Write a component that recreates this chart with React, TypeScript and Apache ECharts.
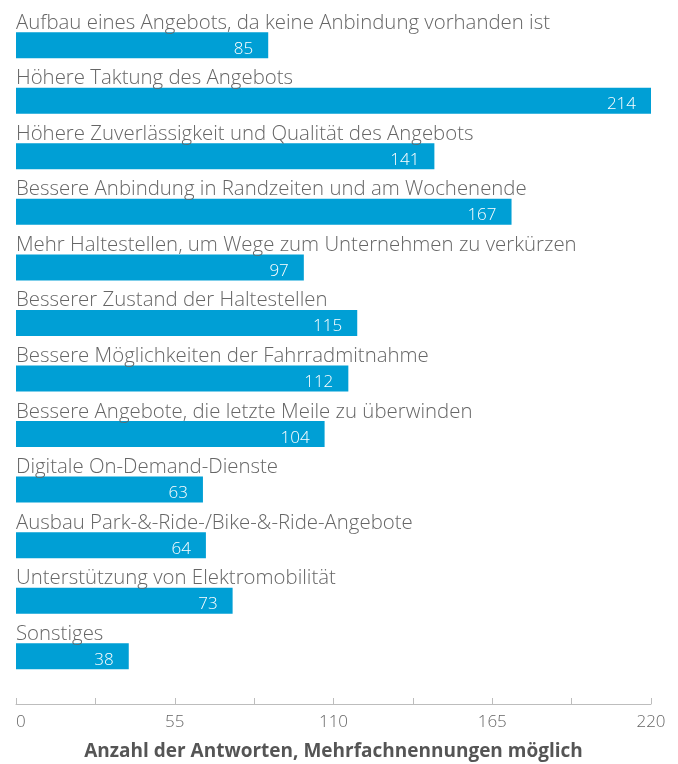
import React, { useEffect, useRef } from "react";
import * as echarts from "echarts";

const categories: string[] = [
  "Aufbau eines Angebots, da keine Anbindung vorhanden ist",
  "Höhere Taktung des Angebots",
  "Höhere Zuverlässigkeit und Qualität des Angebots",
  "Bessere Anbindung in Randzeiten und am Wochenende",
  "Mehr Haltestellen, um Wege zum Unternehmen zu verkürzen",
  "Besserer Zustand der Haltestellen",
  "Bessere Möglichkeiten der Fahrradmitnahme",
  "Bessere Angebote, die letzte Meile zu überwinden",
  "Digitale On-Demand-Dienste",
  "Ausbau Park-&-Ride-/Bike-&-Ride-Angebote",
  "Unterstützung von Elektromobilität",
  "Sonstiges",
];

const values: number[] = [85, 214, 141, 167, 97, 115, 112, 104, 63, 64, 73, 38];

const axisMax = 220;
const axisStep = 27.5;
const axisLabelStep = 55;
const axisTitle = "Anzahl der Antworten, Mehrfachnennungen möglich";

const FONT = "'Open Sans', sans-serif";

export default function App() {
  const ref = useRef<HTMLDivElement>(null);

  useEffect(() => {
    if (!ref.current) return;
    const chart = echarts.init(ref.current, null, { renderer: "svg" });
    chart.setOption({
      animation: false,
      grid: { left: 16, width: 635, top: 17.4, height: 674.7, containLabel: false },
      yAxis: {
        type: "category",
        data: categories,
        inverse: true,
        show: false,
      },
      xAxis: [
        {
          type: "value",
          min: 0,
          max: 214,
          show: false,
        },
        {
          type: "value",
          min: 0,
          max: axisMax,
          interval: axisStep,
          position: "bottom",
          offset: 20,
          axisLine: { show: true, lineStyle: { color: "#bdbdbd", width: 1 } },
          axisTick: { show: true, inside: true, length: 6, lineStyle: { color: "#bdbdbd" } },
          splitLine: { show: false },
          axisLabel: {
            margin: 8,
            color: "#666",
            fontFamily: FONT,
            fontWeight: 300,
            fontSize: 17,
            alignMinLabel: "left",
            formatter: (v: number) =>
              Math.abs(v / axisLabelStep - Math.round(v / axisLabelStep)) < 1e-6 ? String(v) : "",
          },
          name: axisTitle,
          nameLocation: "middle",
          nameGap: 36,
          nameTextStyle: {
            color: "#555",
            fontFamily: FONT,
            fontWeight: "bold",
            fontSize: 19,
          },
        },
      ],
      series: [
        {
          type: "bar",
          xAxisIndex: 0,
          data: values,
          barWidth: 26,
          itemStyle: { color: "#009fd5" },
          label: {
            show: true,
            position: "insideRight",
            distance: 15,
            offset: [0, 2],
            color: "#fff",
            fontFamily: FONT,
            fontWeight: 300,
            fontSize: 17,
            lineHeight: 16,
          },
          z: 2,
        },
        {
          type: "bar",
          xAxisIndex: 0,
          data: values,
          barWidth: 26,
          barGap: "-100%",
          itemStyle: { color: "rgba(0,0,0,0)" },
          label: {
            show: true,
            position: [0, -11.5],
            verticalAlign: "middle",
            align: "left",
            color: "#666",
            fontFamily: FONT,
            fontWeight: 300,
            fontSize: 20.4,
            lineHeight: 19,
            formatter: (p: any) => p.name,
          },
          silent: true,
          z: 3,
        },
      ],
    });
    return () => chart.dispose();
  }, []);

  return (
    <div
      ref={ref}
      style={{ position: "fixed", left: 0, top: 0, width: 678, height: 764 }}
    />
  );
}
